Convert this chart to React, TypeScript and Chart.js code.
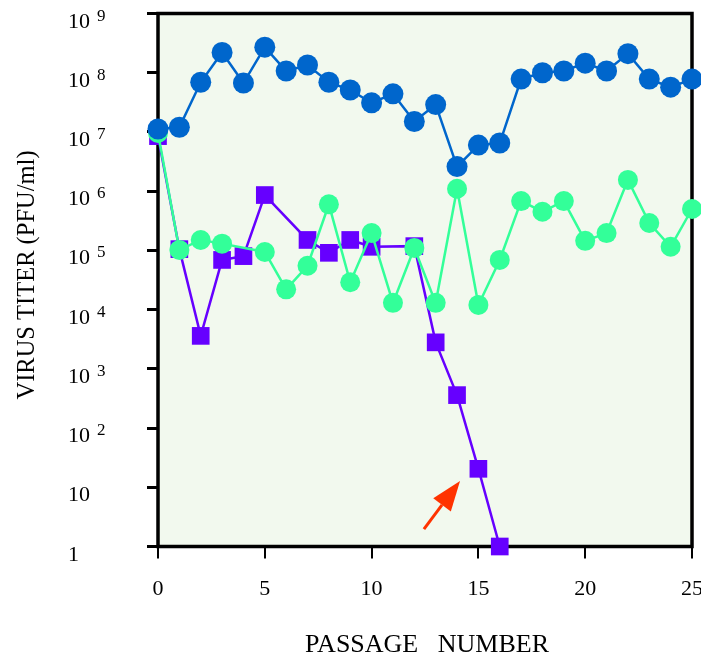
import { useEffect, useRef } from 'react';
import { Chart, registerables } from 'chart.js';

Chart.register(...registerables);

// ---- data ----
const passages = [0, 1, 2, 3, 4, 5, 6, 7, 8, 9, 10, 11, 12, 13, 14, 15, 16, 17, 18, 19, 20, 21, 22, 23, 24, 25];

const blueTiter = [
  1.12e7, 1.2e7, 6.9e7, 2.2e8, 6.7e7, 2.7e8, 1.07e8, 1.35e8, 6.9e7, 5.1e7,
  3.1e7, 4.4e7, 1.5e7, 2.9e7, 2.6e6, 6.0e6, 6.5e6, 7.8e7, 1.0e8, 1.07e8,
  1.45e8, 1.07e8, 2.1e8, 7.8e7, 5.7e7, 7.8e7,
];

const greenTiter = [
  9.6e6, 1.02e5, 1.5e5, 1.3e5, null, 9.4e4, 2.2e4, 5.5e4, 6.0e5, 2.9e4,
  1.96e5, 1.3e4, 1.1e5, 1.3e4, 1.1e6, 1.2e4, 6.9e4, 6.8e5, 4.5e5, 6.8e5,
  1.45e5, 1.96e5, 1.55e6, 2.9e5, 1.15e5, 5.0e5,
];

const purpleTiter = [
  8.5e6, 1.05e5, 3.6e3, 6.9e4, 8.0e4, 8.6e5, null, 1.5e5, 9.1e4, 1.5e5,
  1.15e5, null, 1.18e5, 2.8e3, 360, 20.5, 1, null, null, null,
  null, null, null, null, null, null,
];

const xTickValues = [0, 5, 10, 15, 20, 25];
const xTickLabels = ['0', '5', '10', '15', '20', '25'];
const yTickExponents = [0, 1, 2, 3, 4, 5, 6, 7, 8, 9];
const yTickBase = ['1', '10', '10', '10', '10', '10', '10', '10', '10', '10'];
const yTickExp = ['', '', '2', '3', '4', '5', '6', '7', '8', '9'];

const xTitle = 'PASSAGE   NUMBER';
const yTitle = 'VIRUS TITER (PFU/ml)';

// arrow annotation in data coordinates
const arrowTail = { x: 12.45, y: 1.97 };
const arrowTip = { x: 14.14, y: 12.8 };

// ---- styles ----
const BLUE = '#0066cc';
const GREEN = '#33ff99';
const PURPLE = '#6600ff';
const ARROW = '#ff3300';
const BG = '#f2f9ee';
const FONT = '"Liberation Serif", "Times New Roman", serif';

const toPoints = (vals: (number | null)[]) =>
  passages.map((p, i) => ({ x: p, y: vals[i] }));

const decorPlugin = {
  id: 'decor',
  beforeDraw(chart: any) {
    const { ctx, chartArea: a } = chart;
    ctx.save();
    ctx.fillStyle = BG;
    ctx.fillRect(a.left, a.top, a.right - a.left, a.bottom - a.top);
    ctx.restore();
  },
  beforeDatasetsDraw(chart: any) {
    const { ctx, chartArea: a } = chart;
    ctx.save();
    ctx.strokeStyle = '#000';
    ctx.lineWidth = 3.5;
    ctx.strokeRect(a.left, a.top, a.right - a.left, a.bottom - a.top);
    ctx.restore();
  },
  afterDatasetsDraw(chart: any) {
    const { ctx } = chart;
    const xs = chart.scales.x;
    const ys = chart.scales.y;
    const x1 = xs.getPixelForValue(arrowTail.x);
    const y1 = ys.getPixelForValue(arrowTail.y);
    const x2 = xs.getPixelForValue(arrowTip.x);
    const y2 = ys.getPixelForValue(arrowTip.y);
    const ang = Math.atan2(y2 - y1, x2 - x1);
    const headLen = 30;
    const headHalf = 11;
    const bx = x2 - headLen * Math.cos(ang);
    const by = y2 - headLen * Math.sin(ang);
    ctx.save();
    ctx.strokeStyle = ARROW;
    ctx.fillStyle = ARROW;
    ctx.lineWidth = 3;
    ctx.beginPath();
    ctx.moveTo(x1, y1);
    ctx.lineTo(bx, by);
    ctx.stroke();
    ctx.beginPath();
    ctx.moveTo(x2, y2);
    ctx.lineTo(bx + headHalf * Math.sin(ang), by - headHalf * Math.cos(ang));
    ctx.lineTo(bx - headHalf * Math.sin(ang), by + headHalf * Math.cos(ang));
    ctx.closePath();
    ctx.fill();
    ctx.restore();
  },
  afterDraw(chart: any) {
    const { ctx, chartArea: a } = chart;
    const xs = chart.scales.x;
    const ys = chart.scales.y;
    ctx.save();
    ctx.fillStyle = '#000';
    ctx.textBaseline = 'alphabetic';
    // y tick labels
    yTickExponents.forEach((e, i) => {
      const y = ys.getPixelForValue(Math.pow(10, e));
      ctx.textAlign = 'left';
      ctx.font = `22px ${FONT}`;
      ctx.fillText(yTickBase[i], 68, y + 14);
      if (yTickExp[i]) {
        ctx.font = `17px ${FONT}`;
        ctx.fillText(yTickExp[i], 97, y + 7);
      }
    });
    // x tick labels
    ctx.font = `22px ${FONT}`;
    ctx.textAlign = 'center';
    xTickValues.forEach((v, i) => {
      ctx.fillText(xTickLabels[i], xs.getPixelForValue(v), 595);
    });
    // x title
    ctx.font = `26px ${FONT}`;
    ctx.fillText(xTitle, (a.left + a.right) / 2 + 2, 652);
    // y title
    ctx.translate(34, 275);
    ctx.rotate(-Math.PI / 2);
    ctx.font = `24.5px ${FONT}`;
    ctx.textAlign = 'center';
    ctx.fillText(yTitle, 0, 0);
    ctx.restore();
  },
};

export default function App() {
  const canvasRef = useRef<HTMLCanvasElement | null>(null);

  useEffect(() => {
    document.body.style.margin = '0';
    const canvas = canvasRef.current;
    if (!canvas) return;
    const chart = new Chart(canvas, {
      type: 'line',
      data: {
        datasets: [
          {
            label: 'blue',
            data: toPoints(blueTiter),
            borderColor: BLUE,
            backgroundColor: BLUE,
            borderWidth: 2.5,
            pointStyle: 'circle',
            pointRadius: 10.5,
            pointHoverRadius: 10.5,
            pointBorderWidth: 0,
            pointBackgroundColor: BLUE,
            spanGaps: true,
            clip: false,
          },
          {
            label: 'green',
            data: toPoints(greenTiter),
            borderColor: GREEN,
            backgroundColor: GREEN,
            borderWidth: 2.5,
            pointStyle: 'circle',
            pointRadius: 10,
            pointHoverRadius: 10,
            pointBorderWidth: 0,
            pointBackgroundColor: GREEN,
            spanGaps: true,
            clip: false,
          },
          {
            label: 'purple',
            data: toPoints(purpleTiter),
            borderColor: PURPLE,
            backgroundColor: PURPLE,
            borderWidth: 2.5,
            pointStyle: 'rect',
            pointRadius: 12.5,
            pointHoverRadius: 12.5,
            pointBorderWidth: 0,
            pointBackgroundColor: PURPLE,
            spanGaps: true,
            clip: false,
          },
        ] as any,
      },
      options: {
        animation: false,
        responsive: false,
        devicePixelRatio: 1,
        events: [],
        layout: { autoPadding: false, padding: { left: 0, top: 13.5, right: 9, bottom: 0 } },
        plugins: {
          legend: { display: false },
          tooltip: { enabled: false },
        },
        scales: {
          x: {
            type: 'linear',
            min: 0,
            max: 25,
            ticks: { display: false, stepSize: 5 },
            grid: {
              display: true,
              drawOnChartArea: false,
              drawTicks: true,
              tickLength: 12,
              color: '#000',
              lineWidth: 2,
            },
            border: { display: false },
            afterBuildTicks: (s: any) => {
              s.ticks = xTickValues.map((v) => ({ value: v }));
            },
            afterFit: (s: any) => {
              s.height = 113.5;
            },
          },
          y: {
            type: 'logarithmic',
            min: 1,
            max: 1e9,
            ticks: { display: false },
            grid: {
              display: true,
              drawOnChartArea: false,
              drawTicks: true,
              tickLength: 11,
              color: '#000',
              lineWidth: 3,
            },
            border: { display: false },
            afterBuildTicks: (s: any) => {
              s.ticks = yTickExponents.map((e) => ({ value: Math.pow(10, e) }));
            },
            afterFit: (s: any) => {
              s.width = 158;
            },
          },
        },
      } as any,
      plugins: [decorPlugin],
    });
    return () => chart.destroy();
  }, []);

  return (
    <div style={{ width: 701, height: 660 }}>
      <canvas ref={canvasRef} width={701} height={660} style={{ display: 'block' }} />
    </div>
  );
}
